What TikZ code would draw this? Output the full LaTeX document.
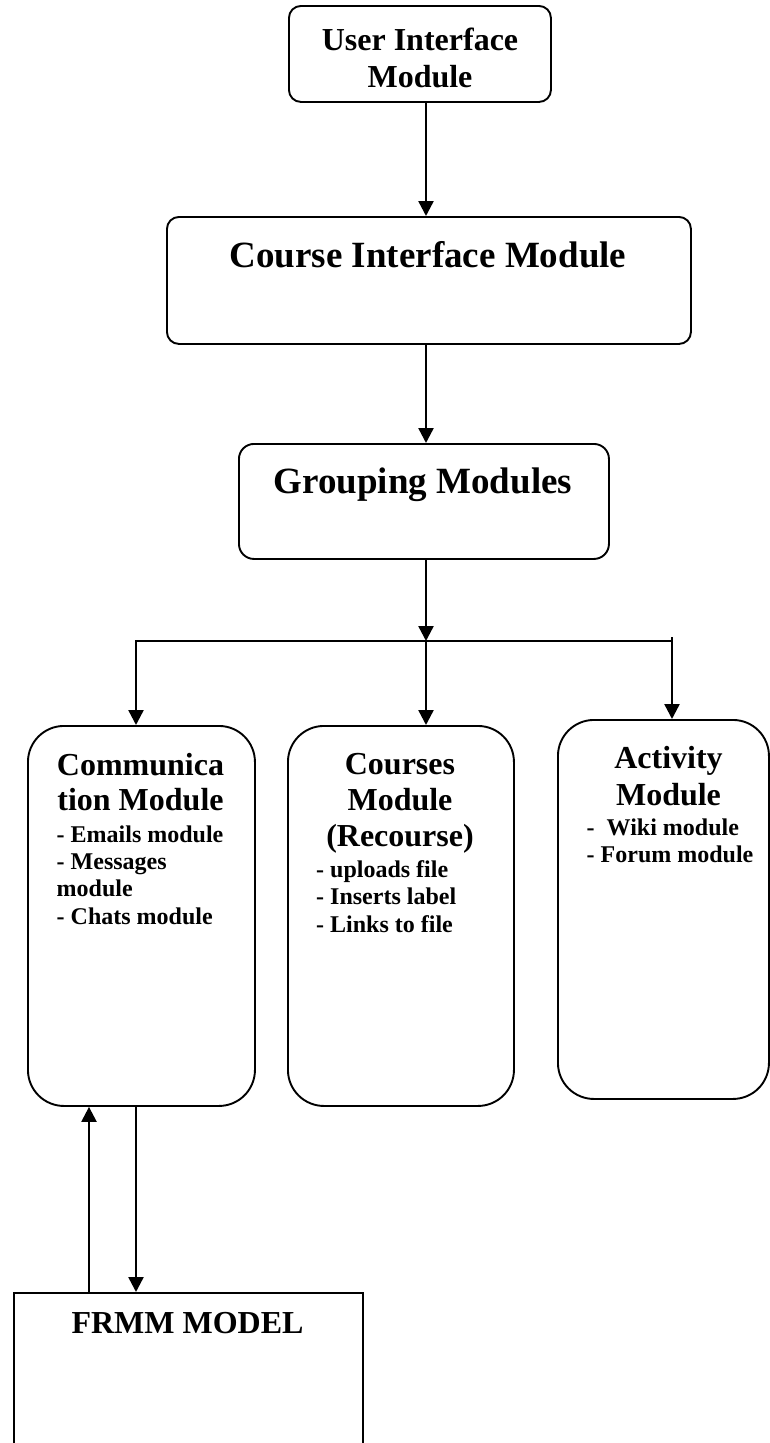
\documentclass[tikz,border=0pt]{standalone}
\usepackage{fontspec}
\setmainfont{Liberation Serif}
\usetikzlibrary{arrows.meta}
\begin{document}
\begin{tikzpicture}[x=1pt,y=-1pt,
  rbox/.style={draw, line width=1.9pt, inner sep=0pt, anchor=north west, rounded corners=#1},
  sbox/.style={draw, line width=1.9pt, inner sep=0pt, anchor=north west},
  arr/.style={line width=2.4pt, -{Triangle[length=15pt,width=15pt]}},
  big/.style={font=\bfseries\fontsize{37}{40}\selectfont, inner sep=0pt, anchor=base},
  ttl/.style={font=\bfseries\fontsize{32}{36}\selectfont, inner sep=0pt, anchor=base},
  itm/.style={font=\bfseries\fontsize{24}{28}\selectfont, inner sep=0pt, anchor=base west}]
\useasboundingbox (0,0) rectangle (769,1443);
% boxes
\node[rbox=12pt, minimum width=262pt, minimum height=96pt] (ui) at (288,5) {};
\node[rbox=12pt, minimum width=524pt, minimum height=127pt] (ci) at (166,216) {};
\node[rbox=15pt, minimum width=370pt, minimum height=115pt] (grp) at (238,443) {};
\node[rbox=36pt, minimum width=227pt, minimum height=380pt] (comm) at (27,725) {};
\node[rbox=36pt, minimum width=226pt, minimum height=380pt] (crs) at (287,725) {};
\node[rbox=36pt, minimum width=211pt, minimum height=379pt] (act) at (557,719) {};
\node[sbox, minimum width=349pt, minimum height=200pt] (frmm) at (13,1292) {};
% texts
\node[ttl] (uit1) at (420,50) {User Interface};
\node[ttl] (uit2) at (420,87) {Module};
\node[big] (cit) at (428,267) {Course Interface Module};
\node[big] (grpt) at (423,493) {Grouping Modules};
\node[ttl] (commt1) at (140.5,775) {Communica};
\node[ttl] (commt2) at (140.5,810) {tion Module};
\node[itm] (commi1) at (56.5,842) {- Emails module};
\node[itm] (commi2) at (56.5,869) {- Messages};
\node[itm] (commi3) at (56.5,896) {module};
\node[itm] (commi4) at (56.5,924) {- Chats module};
\node[ttl] (crst1) at (400,774) {Courses};
\node[ttl] (crst2) at (400,810) {Module};
\node[ttl] (crst3) at (400,846) {(Recourse)};
\node[itm] (crsi1) at (316,877) {- uploads file};
\node[itm] (crsi2) at (316,904) {- Inserts label};
\node[itm] (crsi3) at (316,932) {- Links to file};
\node[ttl] (actt1) at (668.5,768) {Activity};
\node[ttl] (actt2) at (668.5,805) {Module};
\node[itm] (acti1) at (586.5,835) {-\ \ Wiki module};
\node[itm] (acti2) at (586.5,862) {- Forum module};
\node[ttl] (frmmt) at (187.5,1333) {FRMM MODEL};
% connectors
\coordinate (cx) at (426,0);
\coordinate (j) at (426,641);
\coordinate (jl) at (136,641);
\coordinate (jr) at (672,641);
\coordinate (jrt) at (672,637);
\coordinate (ux) at (89,0);
\coordinate (dx) at (136,0);
\draw[arr] (ui.south -| cx) -- (ci.north -| cx);
\draw[arr] (ci.south -| cx) -- (grp.north -| cx);
\draw[arr] (grp.south -| j) -- (j);
\draw[arr] (j) -| (comm.north -| jl);
\draw[arr] (j) -- (crs.north -| j);
\draw[line width=2.4pt] (j) -- (jr);
\draw[arr] (jrt) -- (act.north -| jrt);
\draw[arr] (frmm.north -| ux) -- (comm.south -| ux);
\draw[arr] (comm.south -| dx) -- (frmm.north -| dx);
\end{tikzpicture}
\end{document}
